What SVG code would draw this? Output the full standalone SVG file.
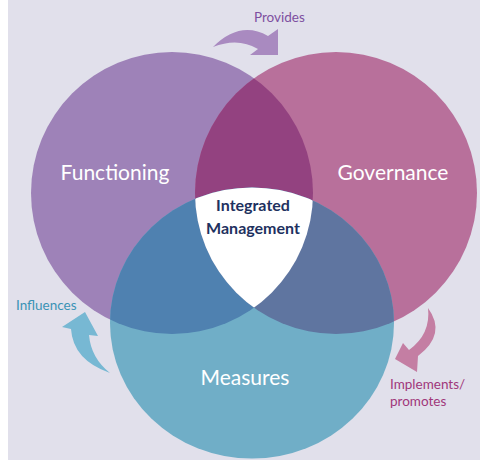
<svg xmlns="http://www.w3.org/2000/svg" width="480" height="460" viewBox="0 0 480 460">
<style>
.lbl{font-family:Lato,"Open Sans","Liberation Sans",sans-serif;fill:#fff;font-size:21px;text-anchor:middle}
.ctr{font-family:Lato,"Open Sans","Liberation Sans",sans-serif;fill:#1e3160;font-size:16px;font-weight:bold;text-anchor:middle}
.cap{font-family:Lato,"Open Sans","Liberation Sans",sans-serif;font-size:13.5px}
</style>
<defs>
<clipPath id="cL"><circle cx="172" cy="193" r="141"/></clipPath>
<clipPath id="cR"><circle cx="336" cy="193" r="141"/></clipPath>
</defs>
<rect x="0" y="0" width="480" height="460" fill="#fff"/>
<rect x="8" y="0" width="472" height="460" fill="#e1e0eb"/>
<g id="functioning">
<circle cx="172" cy="193" r="141" fill="#9e82b8"/>
</g>
<g id="governance">
<circle cx="336" cy="193" r="141" fill="#b8709b"/>
</g>
<g id="measures">
<ellipse cx="252" cy="323" rx="142" ry="135.5" fill="#70aec7"/>
</g>
<g id="overlaps">
<circle cx="336" cy="193" r="141" fill="#934280" clip-path="url(#cL)"/>
<ellipse cx="252" cy="323" rx="142" ry="135.5" fill="#4f81b0" clip-path="url(#cL)"/>
<ellipse cx="252" cy="323" rx="142" ry="135.5" fill="#5f75a0" clip-path="url(#cR)"/>
</g>
<g id="integrated">
<g clip-path="url(#cL)"><g clip-path="url(#cR)"><ellipse cx="252" cy="323" rx="142" ry="135.5" fill="#fff"/></g></g>
<text class="ctr" x="253" y="211">Integrated</text>
<text class="ctr" x="253" y="234">Management</text>
</g>
<g id="labels">
<text class="lbl" x="115" y="180">Functioning</text>
<text class="lbl" x="393" y="180">Governance</text>
<text class="lbl" x="245" y="385">Measures</text>
</g>
<g id="connectors">
<path d="M213,47 Q240,20 268,36 L278,29 L278,55 L250,55 L258,49 Q238,37 213,47 Z" fill="#a98ac0"/>
<path d="M85,312 L98,336 L89,335 Q91,358 110,373 Q73,360 71,329 L62,327 Z" fill="#77b8d3"/>
<path d="M428,308 Q447,334 418,356 L417,372 L395,359 L403,343 L409,350 Q431,334 428,308 Z" fill="#c47ea3"/>
</g>
<g id="captions">
<text class="cap" x="254" y="22" fill="#7e4fa0">Provides</text>
<text class="cap" x="16" y="310" fill="#3a93b5">Influences</text>
<text class="cap" x="390" y="389" fill="#a0377a">Implements/</text>
<text class="cap" x="390" y="406" fill="#a0377a">promotes</text>
</g>
</svg>
